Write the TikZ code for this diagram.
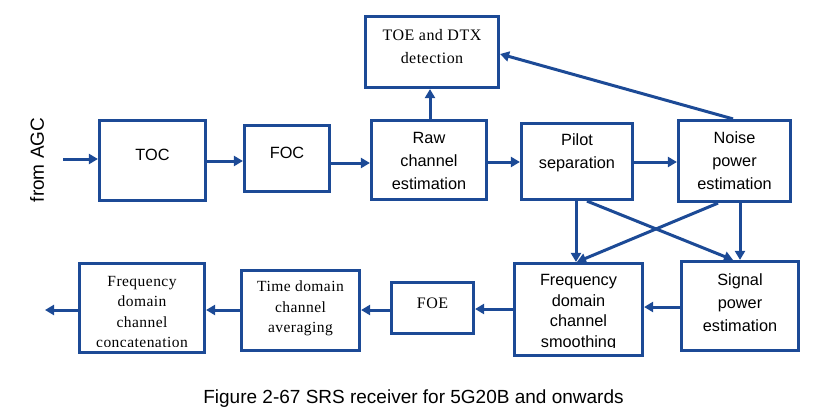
\documentclass[tikz,border=0pt]{standalone}
\usepackage{fontspec}
\setmainfont{Liberation Sans}
\newfontfamily\tnr[LetterSpace=3]{Liberation Serif}
\usetikzlibrary{arrows.meta}
\definecolor{lblue}{HTML}{1C4A96}
\tikzset{
  blk/.style={draw=lblue, line width=3.2pt, inner sep=0pt, fill=white},
  arr/.style={draw=lblue, line width=3pt, -{Triangle[length=9pt,width=10pt]}},
  sans/.style={font=\fontsize{16.3}{23}\selectfont, align=center, inner sep=0pt},
  serif/.style={font=\tnr\fontsize{15.5}{20.5}\selectfont, align=center, inner sep=0pt},
}
\begin{document}
\begin{tikzpicture}[x=1pt,y=-1pt]
\useasboundingbox (0,0) rectangle (821,415);
% boxes
\node[blk, minimum width=106pt, minimum height=80pt] (toc) at (152.5,160.5) {};
\node[blk, minimum width=85pt, minimum height=66pt] (foc) at (287,158.5) {};
\node[blk, minimum width=115pt, minimum height=79pt] (raw) at (429,160) {};
\node[blk, minimum width=133pt, minimum height=71pt] (toe) at (432,52) {};
\node[blk, minimum width=111pt, minimum height=76pt] (pilot) at (577,161.5) {};
\node[blk, minimum width=112pt, minimum height=81pt] (noise) at (734.5,161) {};
\node[blk, minimum width=125pt, minimum height=89pt] (concat) at (142,308) {};
\node[blk, minimum width=118pt, minimum height=80pt] (time) at (300.5,310.5) {};
\node[blk, minimum width=82pt, minimum height=51pt] (foe) at (432.5,308) {};
\node[blk, minimum width=128pt, minimum height=92pt] (smooth) at (578.5,309.5) {};
\node[blk, minimum width=117pt, minimum height=89pt] (signal) at (740,306) {};
% texts
\node[sans] (toct) at (152.5,155) {TOC};
\node[sans] (foct) at (287,153) {FOC};
\node[sans] (rawt) at (429,161) {Raw\\channel\\estimation};
\node[serif, font=\tnr\fontsize{16}{23}\selectfont] (toet) at (432,47) {TOE and DTX\\detection};
\node[sans] (pilott) at (577,152.5) {Pilot\\separation};
\node[sans] (noiset) at (734.5,161) {Noise\\power\\estimation};
\begin{scope}
\clip (70,250) rectangle (215,346);
\node[serif] (concatt) at (142,312) {Frequency\\domain\\channel\\concatenation};
\end{scope}
\node[serif] (timet) at (300.5,308.5) {Time domain\\channel\\averaging};
\node[serif, font=\tnr\fontsize{16}{20}\selectfont] (foet) at (432.5,303.5) {FOE};
\begin{scope}
\clip (500,250) rectangle (660,347);
\node[sans, font=\fontsize{16.3}{20.7}\selectfont] (smootht) at (578.5,312.5) {Frequency\\domain\\channel\\smoothing};
\end{scope}
\node[sans] (signalt) at (740,303) {Signal\\power\\estimation};
\node[font=\fontsize{19}{22}\selectfont, rotate=90, inner sep=0pt] (agc) at (37,160) {from AGC};
\node[font=\fontsize{19}{22}\selectfont, inner sep=0pt] (cap) at (413.5,399) {Figure 2-67 SRS receiver for 5G20B and onwards};
% free ends
\coordinate (in) at (63,159);
\coordinate (out) at (45,310);
% connectors
\draw[arr] (in) -- (toc.west |- in);
\draw[arr] (toc.east |- 0,161) -- (foc.west |- 0,161);
\draw[arr] (foc.east |- 0,163) -- (raw.west |- 0,163);
\draw[arr] (raw.north -| 430,0) -- (toe.south -| 430,0);
\draw[arr] (raw.east |- 0,162) -- (pilot.west |- 0,162);
\draw[arr] (pilot.east |- 0,162) -- (noise.west |- 0,162);
\draw[arr] (noise.north -| 733,0) -- (toe.east |- 0,54);
\draw[arr] (pilot.south -| 576,0) -- (smooth.north -| 576,0);
\draw[arr] (pilot.south -| 587,0) -- (signal.north -| 733,0);
\draw[arr] (noise.south -| 718,0) -- (smooth.north -| 577,0);
\draw[arr] (noise.south -| 740,0) -- (signal.north -| 740,0);
\draw[arr] (signal.west |- 0,307) -- (smooth.east |- 0,307);
\draw[arr] (smooth.west |- 0,309) -- (foe.east |- 0,309);
\draw[arr] (foe.west |- 0,310) -- (time.east |- 0,310);
\draw[arr] (time.west |- 0,310) -- (concat.east |- 0,310);
\draw[arr] (concat.west |- out) -- (out);
\end{tikzpicture}
\end{document}
